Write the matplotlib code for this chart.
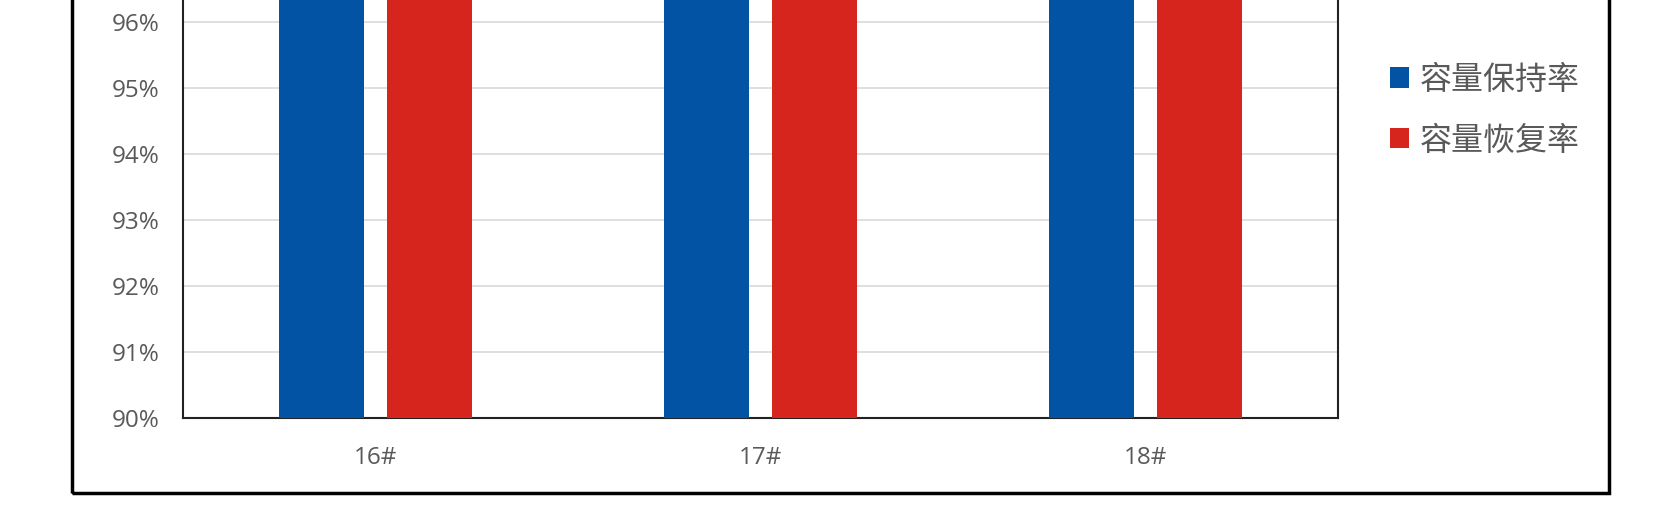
import matplotlib
matplotlib.use('Agg')
import matplotlib.pyplot as plt
from matplotlib.patches import Rectangle
from matplotlib.ticker import PercentFormatter
import numpy as np

plt.rcParams['font.family'] = ['Open Sans', 'Noto Sans CJK SC', 'DejaVu Sans']

# data
samples = ['16#', '17#', '18#']
retention = [0.985, 0.983, 0.987]   # 容量保持率 (tops are cut off in the picture)
recovery = [0.992, 0.991, 0.993]    # 容量恢复率
series_names = ['容量保持率', '容量恢复率']
colors = ['#0353A4', '#D5251D']
yticks = [0.90, 0.91, 0.92, 0.93, 0.94, 0.95, 0.96]

fig = plt.figure(figsize=(16.8, 5.25), dpi=100)
# plot area runs beyond the top of the picture, as in the reference
ax = fig.add_axes([183/1680, 107/525, 1155/1680, 660/525])

x = np.arange(len(samples))
w = 0.22
ax.bar(x - 0.14, retention, w, color=colors[0], label=series_names[0], zorder=3)
ax.bar(x + 0.14, recovery, w, color=colors[1], label=series_names[1], zorder=3)

ax.set_xlim(-0.5, len(samples) - 0.5)
ax.set_ylim(0.90, 1.00)
ax.set_yticks(yticks)
ax.yaxis.set_major_formatter(PercentFormatter(1.0, decimals=0))
ax.set_xticks(x)
ax.set_xticklabels(samples)
ax.tick_params(axis='both', length=0, labelsize=17.5, labelcolor='#595959')
ax.tick_params(axis='y', pad=17)
ax.tick_params(axis='x', pad=20)
ax.grid(axis='y', color='#d9d9d9', linewidth=1.2, zorder=0)
for s in ax.spines.values():
    s.set_color('#222222')
    s.set_linewidth(1.5)

leg = fig.legend(loc='upper left', bbox_to_anchor=(1361/1680, 1 - 35/525),
                 frameon=False, prop={'family': ['Noto Sans CJK SC'], 'size': 23},
                 handlelength=0.6, handleheight=0.6,
                 handletextpad=0.35, labelspacing=0.9, labelcolor='#595959')

# outer chart border
fig.patches.append(Rectangle((72/1680, 32/525), (1609 - 72)/1680, 1.5,
                             transform=fig.transFigure, fill=False,
                             edgecolor='black', linewidth=2.5, clip_on=False))

fig.savefig('out.png', dpi=100)
